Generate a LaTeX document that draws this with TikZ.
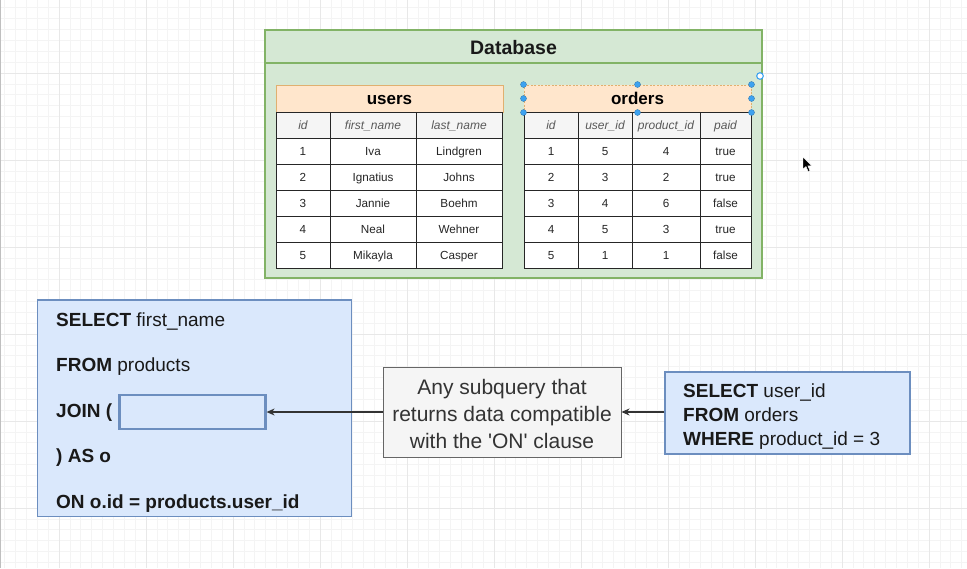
\documentclass[tikz,border=0pt]{standalone}
\usepackage{fontspec}
\setmainfont{Liberation Sans}
\usetikzlibrary{arrows.meta}
\definecolor{dbfill}{HTML}{D5E8D4}
\definecolor{dbline}{HTML}{82B366}
\definecolor{orfill}{HTML}{FFE6CC}
\definecolor{orline}{HTML}{E0B070}
\definecolor{blfill}{HTML}{DAE8FC}
\definecolor{blline}{HTML}{6C8EBF}
\definecolor{gyfill}{HTML}{F5F5F5}
\definecolor{gyline}{HTML}{666666}
\definecolor{gytext}{HTML}{333333}
\definecolor{minorg}{HTML}{F4F4F4}
\definecolor{majorg}{HTML}{E8E8E8}
\definecolor{handle}{HTML}{3DA2F0}
\tikzset{
  minorgrid/.style={draw=minorg, line width=0.8pt},
  majorgrid/.style={draw=majorg, line width=1pt},
  dbbox/.style={draw=dbline, fill=dbfill, line width=1.3pt, inner sep=0pt},
  tblhead/.style={draw=orline, fill=orfill, line width=1pt, inner sep=0pt, minimum height=27, text height=12.3, text depth=0.5, font=\bfseries\fontsize{17}{20}\selectfont},
  cell/.style={draw=black!85, line width=1pt, fill=white, inner sep=0pt, minimum height=26, text height=8.6, text depth=0.4, font=\fontsize{11.7}{14}\selectfont, text=black!85},
  hcell/.style={cell, fill=gyfill, text=black!65, font=\itshape\fontsize{12}{14}\selectfont},
  bluebox/.style={draw=blline, fill=blfill, line width=1.2pt, inner sep=0pt},
  slotbox/.style={draw=blline, fill=blfill, line width=2.2pt, inner sep=0pt},
  greybox/.style={draw=gyline, fill=gyfill, line width=1pt, inner sep=0pt},
  sqltext/.style={anchor=base west, inner sep=0pt, font=\fontsize{19}{24}\selectfont, text=black!90},
  arr/.style={draw=gytext, line width=1.2pt, -{Stealth[length=8pt, width=7pt, inset=2.5pt]}},
  handledot/.style={fill=handle, draw=handle!70!black, line width=0.3pt}
}
\begin{document}
\begin{tikzpicture}[x=1pt,y=-1pt]
\fill[white] (0,0) rectangle (967,568);
\useasboundingbox (0,0) rectangle (967,568);
% background grid
\foreach \i in {0,...,89} {\draw[minorgrid] ({4.65+10.875*\i},0) -- ++(0,568);}
\foreach \i in {0,...,52} {\draw[minorgrid] (0,{7.8+10.875*\i}) -- ++(967,0);}
\foreach \i in {0,...,11} {\draw[majorgrid] ({-28+87*\i},0) -- ++(0,568);}
\foreach \i in {0,...,7} {\draw[majorgrid] (0,{-14+87*\i}) -- ++(967,0);}
\draw[black!25, line width=1pt] (0.5,0) -- (0.5,568);

% Database container
\node[dbbox, minimum width=497, minimum height=248] (db) at (513.5,154) {};
\draw[dbline, line width=1.2pt] (db.north west |- 0,63) coordinate (dbl) -- (db.north east |- 0,63) coordinate (dbr);
\node[inner sep=0pt, font=\bfseries\fontsize{19.5}{22}\selectfont, text=black!90] (dbtitle) at (513.5,47.5) {Database};

% users table
\node[tblhead, minimum width=227] (uh) at (389.5,98.5) {users};
\node[hcell, minimum width=54] (u-0-a) at (303,125) {id};
\node[hcell, minimum width=86] (u-0-b) at (373,125) {first\_name};
\node[hcell, minimum width=86] (u-0-c) at (459,125) {last\_name};
\foreach \a/\b/\c [count=\r] in {1/Iva/Lindgren, 2/Ignatius/Johns, 3/Jannie/Boehm, 4/Neal/Wehner, 5/Mikayla/Casper} {
  \node[cell, minimum width=54] (u-\r-a) at (303,{125+26*\r}) {\a};
  \node[cell, minimum width=86] (u-\r-b) at (373,{125+26*\r}) {\b};
  \node[cell, minimum width=86] (u-\r-c) at (459,{125+26*\r}) {\c};
}

% orders table
\node[tblhead, minimum width=227, dashed, dash pattern=on 2pt off 1.5pt] (oh) at (637.5,98.5) {orders};
\node[hcell, minimum width=54] (o-0-a) at (551,125) {id};
\node[hcell, minimum width=54] (o-0-b) at (605,125) {user\_id};
\node[hcell, minimum width=68] (o-0-c) at (666,125) {product\_id};
\node[hcell, minimum width=51] (o-0-d) at (725.5,125) {paid};
\foreach \a/\b/\c/\d [count=\r] in {1/5/4/true, 2/3/2/true, 3/4/6/false, 4/5/3/true, 5/1/1/false} {
  \node[cell, minimum width=54] (o-\r-a) at (551,{125+26*\r}) {\a};
  \node[cell, minimum width=54] (o-\r-b) at (605,{125+26*\r}) {\b};
  \node[cell, minimum width=68] (o-\r-c) at (666,{125+26*\r}) {\c};
  \node[cell, minimum width=51] (o-\r-d) at (725.5,{125+26*\r}) {\d};
}
% selection handles on the orders header
\foreach \p in {north west, north, north east, west, east, south west, south, south east} {
  \fill[handledot] (oh.\p) circle (3pt);
}
\draw[handle, line width=1.1pt, fill=white] (760,76) circle (3.3pt);

% mouse cursor
\filldraw[fill=black, draw=white, line width=0.4pt] (803,157) -- (803,169) -- (806,166.5) -- (808.2,171.5) -- (810,170.7) -- (807.8,165.8) -- (811.8,165.8) -- cycle;

% left SQL box
\node[bluebox, minimum width=313.5, minimum height=216.5] (sql) at (194.5,408.3) {};
\node[sqltext] (s1) at (56,326) {\textbf{SELECT} first\_name};
\node[sqltext] (s2) at (56,371.5) {\textbf{FROM} products};
\node[sqltext] (s3) at (56,417) {\textbf{JOIN (}};
\node[sqltext] (s4) at (56,462.5) {\textbf{) AS o}};
\node[sqltext] (s5) at (56,508) {\textbf{ON o.id = products.user\_id}};
\node[slotbox, minimum width=146, minimum height=34] (slot) at (192.5,412) {};

% middle explanation box
\node[greybox, minimum width=238, minimum height=90] (mid) at (502,412) {};
\node[inner sep=0pt, align=center, text=gytext, font=\fontsize{21}{27}\selectfont] (midtext) at (502,414) {Any subquery that\\returns data compatible\\with the \textquotesingle ON\textquotesingle{} clause};

% right subquery box
\node[bluebox, minimum width=245, minimum height=82] (rq) at (787.5,413) {};
\node[inner sep=0pt, anchor=west, align=left, text=black!90, font=\fontsize{19}{24}\selectfont] (rqtext) at (683,416.5) {\textbf{SELECT} user\_id\\\textbf{FROM} orders\\\textbf{WHERE} product\_id = 3};

% connectors
\draw[arr] (rq.west |- mid.east) -- (mid.east);
\draw[arr] (mid.west) -- (slot.east);
\end{tikzpicture}
\end{document}
